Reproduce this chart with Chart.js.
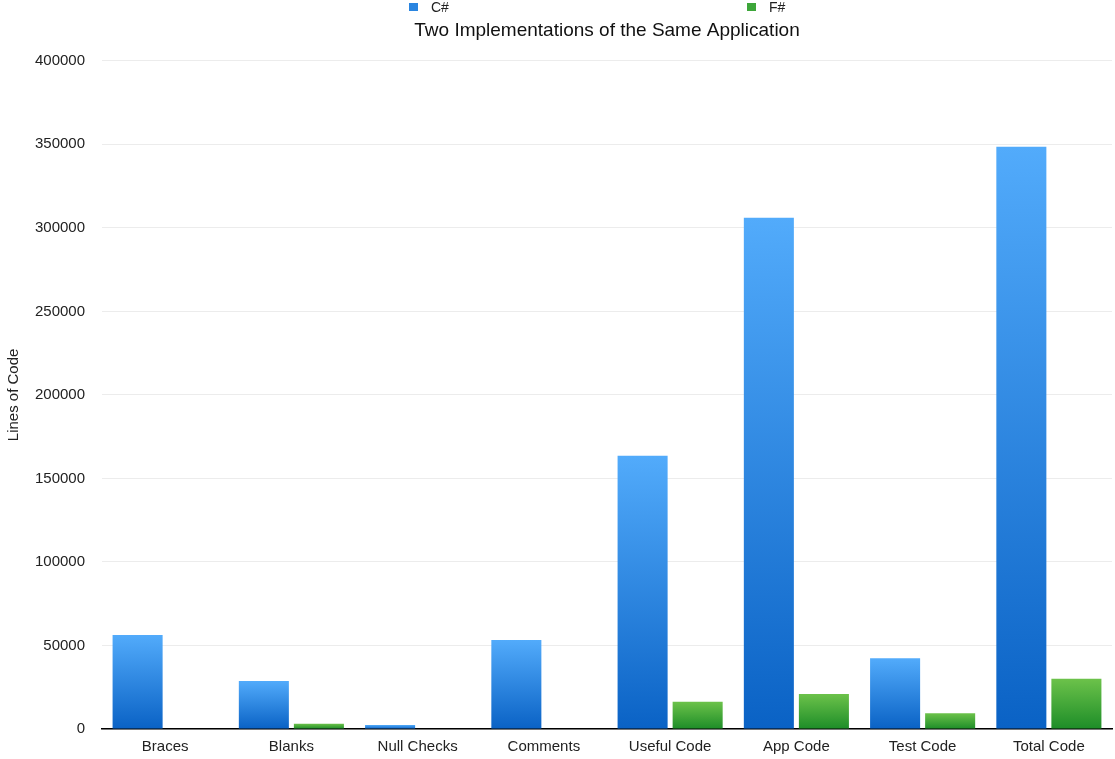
<!DOCTYPE html>
<html>
<head>
<meta charset="utf-8">
<title>Two Implementations of the Same Application</title>
<script src="https://cdn.jsdelivr.net/npm/chart.js@4/dist/chart.umd.min.js"></script>
<style>
    html, body { margin: 0; padding: 0; background: #fff; }
    #wrap { position: relative; width: 1115px; height: 759px; }
</style>
</head>
<body>
<div id="wrap"><canvas id="locChart"></canvas></div>
<script>
const categories = ['Braces', 'Blanks', 'Null Checks', 'Comments', 'Useful Code', 'App Code', 'Test Code', 'Total Code'];
const csharpLines = [56300, 28700, 2400, 53300, 163500, 306000, 42300, 348500];
const fsharpLines = [0, 3200, 0, 0, 16300, 21000, 9400, 30100];
const yTicks = [0, 50000, 100000, 150000, 200000, 250000, 300000, 350000, 400000];

const FONT = '"Liberation Sans", Arial, Helvetica, sans-serif';

// vertical gradient per bar, light at top, dark at the base
function barGradient(top, bottom) {
    return (ctx) => {
        const chart = ctx.chart;
        if (!chart.chartArea || ctx.type !== 'data') return bottom;
        const y = chart.scales.y;
        const yTop = y.getPixelForValue(ctx.raw);
        const yBase = y.getPixelForValue(0);
        if (yBase - yTop < 1) return bottom;
        const g = chart.ctx.createLinearGradient(0, yTop, 0, yBase);
        g.addColorStop(0, top);
        g.addColorStop(1, bottom);
        return g;
    };
}

// legend drawn above the title, items spread over the plot width
const topLegend = {
    id: 'topLegend',
    afterDraw(chart) {
        const { ctx, chartArea } = chart;
        const mid = (chartArea.left + chartArea.right) / 2;
        const starts = [mid - 198, mid + 140];
        ctx.save();
        ctx.font = '14px ' + FONT;
        ctx.textBaseline = 'middle';
        chart.data.datasets.forEach((ds, i) => {
            const x = starts[i];
            ctx.fillStyle = ds.legendColor;
            ctx.fillRect(x, 3, 9, 8);
            ctx.fillStyle = '#222';
            ctx.fillText(ds.label, x + 22, 8);
        });
        ctx.restore();
    }
};

new Chart(document.getElementById('locChart'), {
    type: 'bar',
    data: {
        labels: categories,
        datasets: [
            {
                label: 'C#',
                data: csharpLines,
                legendColor: '#2a85e0',
                backgroundColor: barGradient('#52abfb', '#0a62c5'),
                categoryPercentage: 0.872,
                barPercentage: 0.909
            },
            {
                label: 'F#',
                data: fsharpLines,
                legendColor: '#3da63a',
                backgroundColor: barGradient('#6cc24a', '#1d8d28'),
                categoryPercentage: 0.872,
                barPercentage: 0.909
            }
        ]
    },
    options: {
        responsive: true,
        maintainAspectRatio: false,
        animation: false,
        layout: { padding: { top: 0, right: 3, bottom: 0, left: 0 } },
        plugins: {
            legend: { display: false },
            tooltip: { enabled: false },
            title: {
                display: true,
                fullSize: false,
                text: 'Two Implementations of the Same Application',
                color: '#111',
                font: { family: FONT, size: 19, weight: 'normal' },
                padding: { top: 19, bottom: 19 }
            }
        },
        scales: {
            x: {
                afterFit(scale) { scale.height = 30; },
                grid: { display: false, drawTicks: false },
                border: { color: '#000', width: 1.5 },
                ticks: { color: '#222', font: { family: FONT, size: 15 }, padding: 9, maxRotation: 0 }
            },
            y: {
                min: 0,
                max: 400000,
                afterBuildTicks(scale) { scale.ticks = yTicks.map((v) => ({ value: v })); },
                afterFit(scale) { scale.width = 102; },
                grid: { color: '#ececec', drawTicks: false },
                border: { display: false },
                ticks: {
                    color: '#222',
                    font: { family: FONT, size: 15 },
                    padding: 17,
                    callback: (v) => String(v)
                },
                title: {
                    display: true,
                    text: 'Lines of Code',
                    color: '#222',
                    font: { family: FONT, size: 15 },
                    padding: { top: 5, bottom: 0 }
                }
            }
        }
    },
    plugins: [topLegend]
});
</script>
</body>
</html>
